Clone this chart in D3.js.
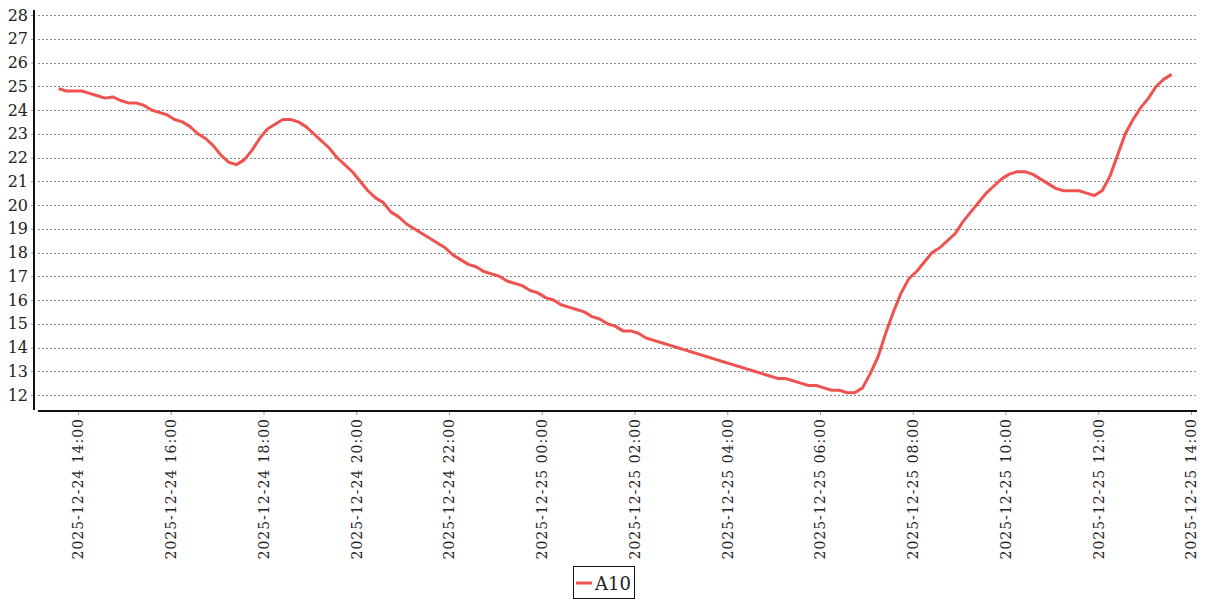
<!DOCTYPE html>
<html>
<head>
  <meta charset="utf-8">
  <script src="https://d3js.org/d3.v7.min.js"></script>
  <style>
    body { margin:0; background:#fff; }
    .grid line { stroke:#888; stroke-dasharray:2,2; stroke-width:1; }
    .tick text { fill:#222; }
  </style>
</head>
<body>
  <script>
    // A10 readings, one every 10 minutes starting 2025-12-24 13:35
    const seriesName = "A10";
    const startTime = "2025-12-24T13:35:00";
    const stepMinutes = 10;
    const values = [
      24.9, 24.8, 24.8, 24.8, 24.7, 24.6, 24.5, 24.55, 24.4, 24.3,
      24.3, 24.2, 24.0, 23.9, 23.8, 23.6, 23.5, 23.3, 23.0, 22.8,
      22.5, 22.1, 21.8, 21.7, 21.9, 22.3, 22.8, 23.2, 23.4, 23.6,
      23.6, 23.5, 23.3, 23.0, 22.7, 22.4, 22.0, 21.7, 21.4, 21.0,
      20.6, 20.3, 20.1, 19.7, 19.5, 19.2, 19.0, 18.8, 18.6, 18.4,
      18.2, 17.9, 17.7, 17.5, 17.4, 17.2, 17.1, 17.0, 16.8, 16.7,
      16.6, 16.4, 16.3, 16.1, 16.0, 15.8, 15.7, 15.6, 15.5, 15.3,
      15.2, 15.0, 14.9, 14.7, 14.7, 14.6, 14.4, 14.3, 14.2, 14.1,
      14.0, 13.9, 13.8, 13.7, 13.6, 13.5, 13.4, 13.3, 13.2, 13.1,
      13.0, 12.9, 12.8, 12.7, 12.7, 12.6, 12.5, 12.4, 12.4, 12.3,
      12.2, 12.2, 12.1, 12.1, 12.3, 12.9, 13.6, 14.6, 15.5, 16.3,
      16.9, 17.2, 17.6, 18.0, 18.2, 18.5, 18.8, 19.3, 19.7, 20.1,
      20.5, 20.8, 21.1, 21.3, 21.4, 21.4, 21.3, 21.1, 20.9, 20.7,
      20.6, 20.6, 20.6, 20.5, 20.4, 20.6, 21.2, 22.1, 23.0, 23.6,
      24.1, 24.5, 25.0, 25.3, 25.5
    ];
    const xDomain = ["2025-12-24T14:00:00", "2025-12-25T14:00:00"];
    const yTicks = [12, 13, 14, 15, 16, 17, 18, 19, 20, 21, 22, 23, 24, 25, 26, 27, 28];

    const width = 1207, height = 600;
    const t0 = new Date(startTime);
    const data = values.map((v, i) => ({ t: d3.timeMinute.offset(t0, i * stepMinutes), v: v }));

    const x = d3.scaleTime()
      .domain(xDomain.map(s => new Date(s)))
      .range([78, 1191]);
    const y = d3.scaleLinear()
      .domain([12, 28])
      .range([395, 15]);

    const svg = d3.select("body").append("svg")
      .attr("width", width)
      .attr("height", height);

    // horizontal dashed grid
    svg.append("g").attr("class", "grid")
      .selectAll("line").data(yTicks).enter().append("line")
      .attr("x1", 38).attr("x2", 1196)
      .attr("y1", d => Math.round(y(d)) + 0.5)
      .attr("y2", d => Math.round(y(d)) + 0.5);

    // y axis, offset a little from the plot
    const yAxis = d3.axisLeft(y).tickValues(yTicks).tickSize(3).tickPadding(3);
    const yG = svg.append("g")
      .attr("transform", "translate(34,0)")
      .call(yAxis);
    yG.select(".domain").remove();
    yG.selectAll(".tick line").attr("stroke", "#999");
    yG.selectAll(".tick text")
      .style("font", "16px 'DejaVu Serif'");
    yG.append("line")
      .attr("x1", 0).attr("x2", 0).attr("y1", 10).attr("y2", 410)
      .attr("stroke", "#111").attr("stroke-width", 2);

    // x axis
    const xAxis = d3.axisBottom(x)
      .ticks(d3.timeHour.every(2))
      .tickFormat(d3.timeFormat("%Y-%m-%d %H:%M"))
      .tickSize(4);
    const xG = svg.append("g")
      .attr("transform", "translate(0,411)")
      .call(xAxis);
    xG.select(".domain").remove();
    xG.selectAll(".tick line").attr("stroke", "#999");
    xG.append("line")
      .attr("x1", 38).attr("x2", 1197).attr("y1", 0).attr("y2", 0)
      .attr("stroke", "#111").attr("stroke-width", 2);
    xG.selectAll(".tick text")
      .style("font", "14px 'DejaVu Serif'")
      .style("letter-spacing", "1px")
      .attr("text-anchor", "end")
      .attr("transform", "rotate(-90)")
      .attr("x", -7)
      .attr("y", 0)
      .attr("dy", "0.35em");

    // the series
    const line = d3.line()
      .x(d => x(d.t))
      .y(d => y(d.v));
    svg.append("path")
      .datum(data)
      .attr("fill", "none")
      .attr("stroke", "#ef5350")
      .attr("stroke-width", 3)
      .attr("stroke-linejoin", "round")
      .attr("d", line);

    // legend
    const lg = svg.append("g").attr("transform", "translate(573,566)");
    lg.append("rect")
      .attr("x", 0.5).attr("y", 0.5).attr("width", 61).attr("height", 32)
      .attr("fill", "#fff").attr("stroke", "#111");
    lg.append("line")
      .attr("x1", 3).attr("x2", 19).attr("y1", 17).attr("y2", 17)
      .attr("stroke", "#ef5350").attr("stroke-width", 3);
    lg.append("text")
      .attr("x", 22).attr("y", 24)
      .style("font", "18px 'DejaVu Serif'")
      .attr("fill", "#222")
      .text(seriesName);
  </script>
</body>
</html>
